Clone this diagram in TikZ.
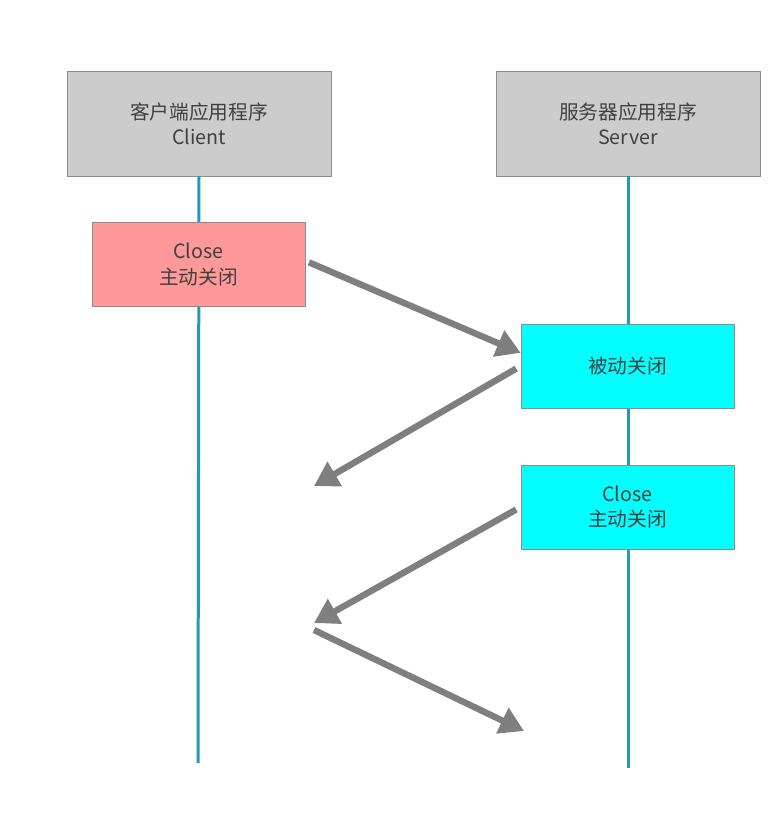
\documentclass[tikz,border=0pt]{standalone}
\usepackage{fontspec}
\setmainfont{Noto Sans CJK SC}
\usetikzlibrary{arrows.meta,positioning}
\definecolor{seqHeaderGray}{RGB}{204, 204, 204}
\definecolor{seqBorderGray}{RGB}{140, 140, 140}
\definecolor{seqPink}{RGB}{255, 153, 153}
\definecolor{seqCyan}{RGB}{0, 255, 255}
\definecolor{seqLifeline}{RGB}{34, 152, 187}
\definecolor{seqArrowGray}{RGB}{127, 127, 127}
\definecolor{seqText}{RGB}{64, 64, 64}

\begin{document}
\begin{tikzpicture}[
  x=0.025cm, y=-0.025cm,
  header/.style={
    draw=seqBorderGray,
    fill=seqHeaderGray,
    minimum width=6.6cm,
    minimum height=2.625cm,
    align=center,
    text=seqText,
    font=\fontsize{14}{18}\selectfont
  },
  activity/.style={
    draw=seqBorderGray,
    minimum width=5.325cm,
    minimum height=2.1cm,
    align=center,
    text=seqText,
    font=\fontsize{14}{18}\selectfont
  },
  lifeline/.style={line width=0.075cm,seqLifeline},
  arrow/.style={-{Triangle[length=0.6cm,width=0.68cm]},line width=0.16cm,seqArrowGray}
]
  \useasboundingbox (0,0) rectangle (776,822);
  \node[header] (client) at (199,123.5) {客户端应用程序\\Client};
  \node[header] (server) at (628,123.5) {服务器应用程序\\Server};
  \coordinate (clientEnd) at (198,763);
  \coordinate (serverEnd) at (628,768);
  \draw[lifeline] (client.south) -- (clientEnd);
  \draw[lifeline] (server.south) -- (serverEnd);
  \node[activity,fill=seqPink] (closeC) at (198.5,264.5) {Close\\主动关闭};
  \node[activity,fill=seqCyan] (passive) at (627.5,366) {被动关闭};
  \node[activity,fill=seqCyan] (closeS) at (627.5,507) {Close\\主动关闭};
  \coordinate (ackC) at (314,486);
  \coordinate (finC) at (314,623);
  \coordinate (ackStart) at (314,630);
  \coordinate (ackS) at (524,731);
  \draw[arrow,shorten <=0.1cm] (closeC.2) -- (passive.173);
  \draw[arrow,shorten <=0.13cm] (passive.west) -- (ackC);
  \draw[arrow,shorten <=0.13cm] (closeS.west) -- (finC);
  \draw[arrow] (ackStart) -- (ackS);
\end{tikzpicture}
\end{document}
